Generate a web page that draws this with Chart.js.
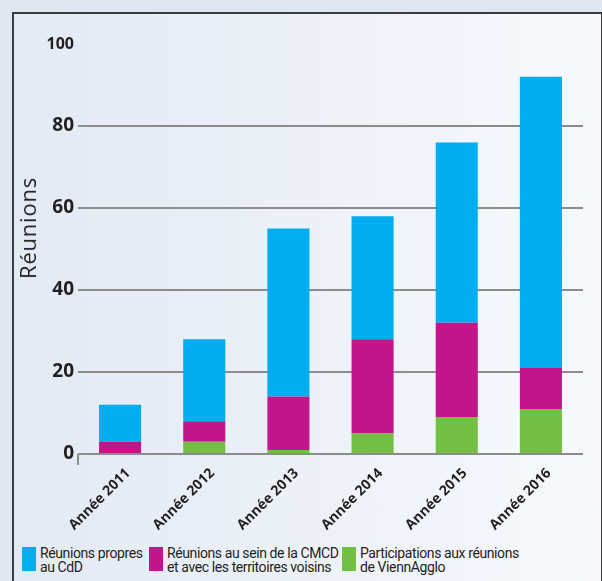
<!DOCTYPE html>
<html lang="fr">
<head>
<meta charset="utf-8">
<script src="https://cdn.jsdelivr.net/npm/chart.js@4.4.0/dist/chart.umd.min.js"></script>
<style>
  html, body { margin: 0; padding: 0; }
  body { width: 602px; height: 581px; overflow: hidden; background: #dde6f1; position: relative; }
  .frame {
    position: absolute; left: 12px; top: 12px; width: 587px; height: 600px;
    border: 2px solid #3a3a3a; border-bottom: none;
    background: linear-gradient(to right, #e2eaf5, #f7f9fd);
  }
  #chart { position: absolute; left: 0; top: 0; }
  .y-title {
    position: absolute; left: 27px; top: 228px;
    transform: translate(-50%, -50%) rotate(-90deg);
    font-family: 'Open Sans', sans-serif; font-size: 22px; letter-spacing: 0.8px;
    color: #231f20; white-space: nowrap;
  }
  .legend { position: absolute; top: 547px; left: 0; width: 602px; height: 34px; }
  .legend-item { position: absolute; top: 0; display: flex; white-space: nowrap; }
  .legend-box { width: 14px; height: 24px; margin-right: 4px; flex: none; }
  .legend-text {
    font-family: Roboto, sans-serif; font-size: 14px; line-height: 14px; letter-spacing: -0.4px;
    color: #231f20; white-space: pre; flex: none; margin-top: -1px;
  }
</style>
</head>
<body>
<div class="frame"></div>
<canvas id="chart" width="602" height="545"></canvas>
<div class="y-title" id="yTitle"></div>
<div class="legend" id="legend"></div>
<script>
const years = ['Année 2011', 'Année 2012', 'Année 2013', 'Année 2014', 'Année 2015', 'Année 2016'];
const propresCdD = [9, 20, 41, 30, 44, 71];
const cmcdVoisins = [3, 5, 13, 23, 23, 10];
const viennAgglo = [0, 3, 1, 5, 9, 11];
const yTicks = [0, 20, 40, 60, 80, 100];
const yTitle = 'Réunions';

const seriesNames = ['Réunions propres\nau CdD', 'Réunions au sein de la CMCD\net avec les territoires voisins', 'Participations aux réunions\nde ViennAgglo'];
const seriesColors = ['#00aeef', '#c4168b', '#72bf44'];
const legendLeft = [22, 149, 342];

const gridGray = '#8c8c8c';
const textColor = '#231f20';

// stacked bottom to top: ViennAgglo, CMCD, CdD
const ctx = document.getElementById('chart').getContext('2d');
const chart = new Chart(ctx, {
  type: 'bar',
  data: {
    labels: years,
    datasets: [
      { label: seriesNames[2].replace('\n', ' '), data: viennAgglo, backgroundColor: seriesColors[2] },
      { label: seriesNames[1].replace('\n', ' '), data: cmcdVoisins, backgroundColor: seriesColors[1] },
      { label: seriesNames[0].replace('\n', ' '), data: propresCdD, backgroundColor: seriesColors[0] }
    ]
  },
  options: {
    responsive: false,
    animation: false,
    datasets: { bar: { categoryPercentage: 1, barPercentage: 0.5 } },
    layout: { padding: { left: 14, right: 19, top: 44, bottom: 1 } },
    plugins: { legend: { display: false }, tooltip: { enabled: false } },
    scales: {
      x: {
        stacked: true,
        border: { display: false },
        grid: {
          drawOnChartArea: false,
          drawTicks: true,
          tickLength: 11,
          lineWidth: 2,
          color: (c) => (c.index === 0 || c.index === years.length) ? gridGray : 'transparent'
        },
        ticks: {
          autoSkip: false,
          minRotation: 45,
          maxRotation: 45,
          padding: 0,
          labelOffset: 8,
          color: textColor,
          font: { family: 'Open Sans', size: 14, weight: 'bold' }
        },
        afterFit: (scale) => { scale.height = 90; }
      },
      y: {
        stacked: true,
        min: 0,
        max: 100,
        afterBuildTicks: (scale) => { scale.ticks = yTicks.map(v => ({ value: v })); },
        border: { display: false },
        grid: {
          drawTicks: false,
          lineWidth: 2,
          color: (c) => (c.tick && c.tick.value === 100) ? 'transparent' : gridGray
        },
        ticks: {
          padding: 4,
          color: textColor,
          font: (c) => ({ family: 'Open Sans', size: (c.tick && c.tick.value === 100) ? 16 : 19, weight: 'bold' })
        },
        afterFit: (scale) => { scale.width = 64; }
      }
    }
  }
});

// axis title sits a bit above the centre of the axis, as in the source
document.getElementById('yTitle').textContent = yTitle;

// legend as text below the canvas
const legend = document.getElementById('legend');
seriesNames.forEach((name, i) => {
  const item = document.createElement('div');
  item.className = 'legend-item';
  item.style.left = legendLeft[i] + 'px';
  const box = document.createElement('div');
  box.className = 'legend-box';
  box.style.background = seriesColors[i];
  const txt = document.createElement('div');
  txt.className = 'legend-text';
  txt.textContent = name;
  item.appendChild(box);
  item.appendChild(txt);
  legend.appendChild(item);
});
</script>
</body>
</html>
